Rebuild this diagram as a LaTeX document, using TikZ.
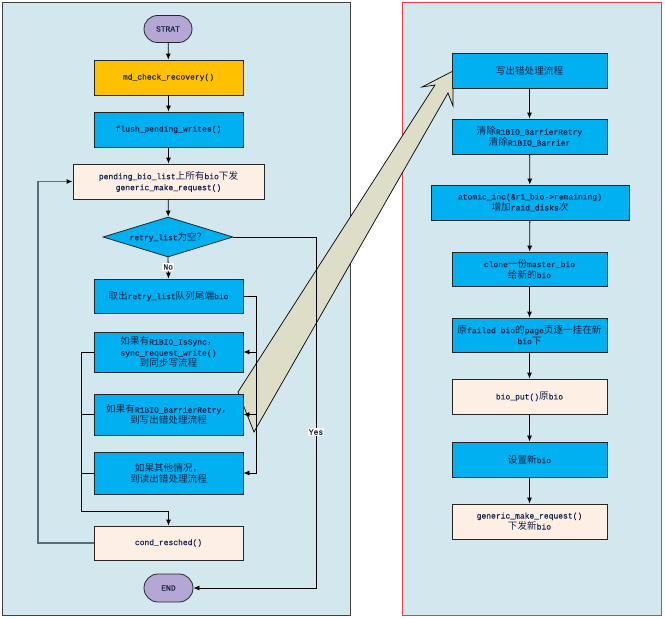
\documentclass[tikz,border=0pt]{standalone}
\usepackage{fontspec}
\setmainfont{Liberation Mono}[FakeBold=0.4]
\newfontfamily\cjk[Scale=1.2]{Noto Sans CJK SC}
\newcommand{\C}[1]{{\cjk #1}}
\usetikzlibrary{shapes.geometric,shapes.misc,arrows.meta}
\definecolor{panel}{RGB}{211,232,238}
\definecolor{bluebox}{RGB}{0,176,240}
\definecolor{orangebox}{RGB}{255,192,0}
\definecolor{peach}{RGB}{253,239,228}
\definecolor{lav}{RGB}{180,167,214}
\definecolor{tan}{RGB}{221,221,200}
\definecolor{txt}{RGB}{25,35,75}
\definecolor{redb}{RGB}{224,64,74}
\definecolor{loopc}{RGB}{86,111,122}
\tikzset{
  x=1pt, y=-1pt,
  base/.style={draw=black!85, line width=0.8pt, text=txt, align=center,
    font=\fontsize{8}{11}\selectfont, inner sep=1pt},
  bluebx/.style={base, rectangle, fill=bluebox, minimum width=149pt, minimum height=35pt},
  orangebx/.style={base, rectangle, fill=orangebox, minimum width=149pt, minimum height=35pt},
  peachbx/.style={base, rectangle, fill=peach, minimum width=149pt, minimum height=35pt},
  term/.style={base, rounded rectangle, fill=lav, minimum width=50pt, minimum height=27pt},
  arr/.style={draw=black, line width=0.8pt, -{Latex[length=6pt,width=5pt]}},
  ln/.style={draw=black, line width=0.8pt},
  lbl/.style={fill=white, inner sep=1pt, text=txt, font=\fontsize{8}{10}\selectfont}
}
\begin{document}
\begin{tikzpicture}
\useasboundingbox (0,0) rectangle (665,619);
% panels
\draw[fill=panel, draw=black!75, line width=0.8pt] (2,2) rectangle (350,615);
\draw[fill=panel, draw=redb, line width=0.8pt] (402,2) rectangle (661,615);
% big arrow
\draw[fill=tan, draw=black, line width=0.7pt]
  (453,71) -- (453,106) -- (448,93) -- (254,432) -- (238,392) -- (435,85) -- (422,87) -- cycle;

% left flow
\node[term] (start) at (168,29) {STRAT};
\node[orangebx] (md) at (168.5,77.5) {md\_check\_recovery()};
\node[bluebx] (flush) at (168.5,129.5) {flush\_pending\_writes()};
\node[peachbx, minimum width=191pt] (pend) at (168.5,181.5) {pending\_bio\_list\C{上所有}bio\C{下发}\\generic\_make\_request()};
\node[base, diamond, fill=bluebox, minimum width=130pt, minimum height=40pt, aspect=3.25, inner sep=0pt] (dia) at (168,237) {retry\_list\C{为空？}};
\node[bluebx, minimum height=34pt] (take) at (168.5,296) {\C{取出}retry\_list\C{队列尾端}bio};
\node[bluebx, minimum height=40pt] (sync) at (168.5,352) {\C{如果有}R1BIO\_IsSync\C{，}\\sync\_request\_write()\\\C{到同步写流程}};
\node[bluebx, minimum height=41pt] (barr) at (168.5,414.5) {\C{如果有}R1BIO\_BarrierRetry\C{，}\\\C{到写出错处理流程}};
\node[bluebx, minimum height=42pt] (other) at (168.5,473) {\C{如果其他情况，}\\\C{到读出错处理流程}};
\node[peachbx, minimum height=34pt] (cond) at (168.5,543) {cond\_resched()};
\node[term, minimum width=51pt, minimum height=28pt] (end) at (168.5,588) {END};

\draw[arr] (start) -- (md);
\draw[arr] (md) -- (flush);
\draw[arr] (flush) -- (pend);
\draw[arr] (pend) -- (dia);
\draw[arr] (dia.south) -- (take.north) node[lbl, pos=0.45] {No};
\coordinate (yx) at (316,237);
\draw[arr] (dia.east) -- (yx) |- (end.east) node[lbl, pos=0.278] {Yes};

\coordinate (rt) at ([xshift=12.5pt]take.east);
\draw[arr] (take.east) -- (rt) |- (other.east);
\draw[arr] (rt |- sync.east) -- (sync.east);
\draw[arr] (rt |- barr.east) -- (barr.east);

\coordinate (lt) at ([xshift=-12.5pt]sync.west);
\coordinate (cb) at ([yshift=14pt]cond.north);
\draw[arr] (sync.west) -- (lt) |- (cb) -- (cond.north);
\draw[ln] (barr.west) -- (lt |- barr.west);
\draw[ln] (other.west) -- (lt |- other.west);

\coordinate (lx) at (38,0);
\draw[draw=loopc, line width=1.6pt, -{Latex[length=6pt,width=5pt,color=black]}] (cond.west) -- (cond.west -| lx) |- (pend.west);

% right flow
\node[bluebx, minimum width=155pt] (w1) at (529.5,70.5) {\C{写出错处理流程}};
\node[bluebx, minimum width=155pt] (w2) at (529.5,136.5) {\C{清除}R1BIO\_BarrierRetry\\\C{清除}R1BIO\_Barrier};
\node[bluebx, minimum width=198pt] (w3) at (530,202.5) {atomic\_inc(\&r1\_bio->remaining)\\\C{增加}raid\_disks\C{次}};
\node[bluebx, minimum width=155pt, minimum height=34pt] (w4) at (529.5,269) {clone\C{一份}master\_bio\\\C{给新的}bio};
\node[bluebx, minimum width=155pt, minimum height=34pt] (w5) at (529.5,335) {\C{原}failed bio\C{的}page\C{页逐一挂在新}\\bio\C{下}};
\node[peachbx, minimum width=155pt] (w6) at (529.5,396.5) {bio\_put()\C{原}bio};
\node[bluebx, minimum width=155pt] (w7) at (529.5,459.5) {\C{设置新}bio};
\node[peachbx, minimum width=155pt] (w8) at (529.5,521.5) {generic\_make\_request()\\\C{下发新}bio};
\draw[arr] (w1) -- (w2);
\draw[arr] (w2) -- (w3);
\draw[arr] (w3) -- (w4);
\draw[arr] (w4) -- (w5);
\draw[arr] (w5) -- (w6);
\draw[arr] (w6) -- (w7);
\draw[arr] (w7) -- (w8);
\end{tikzpicture}
\end{document}
